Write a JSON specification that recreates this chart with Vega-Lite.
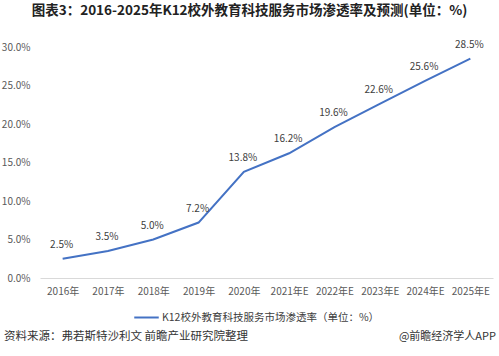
{
  "$schema": "https://vega.github.io/schema/vega-lite/v6.json",
  "width": 453,
  "height": 231,
  "autosize": {"type": "none"},
  "padding": {"left": 40, "top": 47, "right": 6, "bottom": 78},
  "background": "white",
  "config": {
    "font": "Noto Sans CJK SC",
    "view": {"stroke": null}
  },
  "title": {
    "text": "图表3：2016-2025年K12校外教育科技服务市场渗透率及预测(单位：%)",
    "anchor": "middle",
    "frame": "group",
    "dx": -17,
    "offset": 22,
    "fontSize": 13.5,
    "fontWeight": "bold",
    "color": "#222222",
    "font": "Noto Sans CJK SC"
  },
  "data": {
    "values": [
      {"year": "2016年", "rate": 0.025, "series": "K12校外教育科技服务市场渗透率（单位：%）"},
      {"year": "2017年", "rate": 0.035, "series": "K12校外教育科技服务市场渗透率（单位：%）"},
      {"year": "2018年", "rate": 0.050, "series": "K12校外教育科技服务市场渗透率（单位：%）"},
      {"year": "2019年", "rate": 0.072, "series": "K12校外教育科技服务市场渗透率（单位：%）"},
      {"year": "2020年", "rate": 0.138, "series": "K12校外教育科技服务市场渗透率（单位：%）"},
      {"year": "2021年E", "rate": 0.162, "series": "K12校外教育科技服务市场渗透率（单位：%）"},
      {"year": "2022年E", "rate": 0.196, "series": "K12校外教育科技服务市场渗透率（单位：%）"},
      {"year": "2023年E", "rate": 0.226, "series": "K12校外教育科技服务市场渗透率（单位：%）"},
      {"year": "2024年E", "rate": 0.256, "series": "K12校外教育科技服务市场渗透率（单位：%）"},
      {"year": "2025年E", "rate": 0.285, "series": "K12校外教育科技服务市场渗透率（单位：%）"}
    ]
  },
  "encoding": {
    "x": {
      "field": "year",
      "type": "ordinal",
      "sort": null,
      "scale": {"type": "point", "padding": 0.5},
      "axis": {
        "title": null,
        "labelAngle": 0,
        "labelFontSize": 10,
        "labelColor": "#595959",
        "labelPadding": 8,
        "ticks": false,
        "domainColor": "#d9d9d9",
        "grid": false
      }
    },
    "y": {
      "field": "rate",
      "type": "quantitative",
      "scale": {"domain": [0, 0.3]},
      "axis": {
        "title": null,
        "values": [0, 0.05, 0.1, 0.15, 0.2, 0.25, 0.3],
        "format": ".1%",
        "labelFontSize": 10,
        "labelColor": "#595959",
        "labelPadding": 10,
        "ticks": false,
        "domain": false,
        "grid": false
      }
    }
  },
  "layer": [
    {
      "mark": {"type": "line", "strokeWidth": 2},
      "encoding": {
        "color": {
          "field": "series",
          "type": "nominal",
          "scale": {"range": ["#4472c4"]},
          "legend": {
            "title": null,
            "orient": "none",
            "legendX": 93,
            "legendY": 257,
            "direction": "horizontal",
            "symbolType": "stroke",
            "symbolSize": 600,
            "symbolStrokeWidth": 2,
            "symbolOffset": 0,
            "labelOffset": 2,
            "labelFontSize": 10.5,
            "labelColor": "#404040",
            "labelLimit": 400
          }
        }
      }
    },
    {
      "mark": {"type": "text", "dy": -14, "dx": -1, "fontSize": 10, "color": "#404040"},
      "encoding": {
        "text": {"field": "rate", "type": "quantitative", "format": ".1%"}
      }
    },
    {
      "data": {"values": [{"t": "资料来源：弗若斯特沙利文 前瞻产业研究院整理"}]},
      "mark": {"type": "text", "align": "left", "baseline": "middle", "fontSize": 11.5, "color": "#333333", "x": -36, "y": 290},
      "encoding": {"text": {"field": "t"}, "x": null, "y": null}
    },
    {
      "data": {"values": [{"t": "@前瞻经济学人APP"}]},
      "mark": {"type": "text", "align": "right", "baseline": "middle", "fontSize": 11, "color": "#333333", "x": 456, "y": 290},
      "encoding": {"text": {"field": "t"}, "x": null, "y": null}
    }
  ]
}
